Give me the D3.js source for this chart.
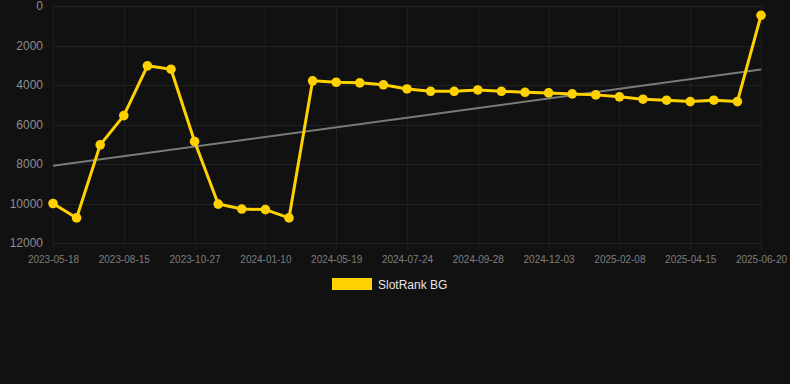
<!DOCTYPE html>
<html>
<head>
<meta charset="utf-8">
<script src="https://cdn.jsdelivr.net/npm/d3@7/dist/d3.min.js"></script>
<style>
  html, body { margin: 0; padding: 0; background: #111111; }
  svg { display: block; }
</style>
</head>
<body>
<svg id="chart" width="790" height="384"></svg>
<script>
// ---- data ----
const dates = [
  "2023-05-18", "2023-06-16", "2023-07-16",
  "2023-08-15", "2023-09-08", "2023-10-03",
  "2023-10-27", "2023-11-21", "2023-12-16",
  "2024-01-10", "2024-02-22", "2024-04-05",
  "2024-05-19", "2024-06-10", "2024-07-02",
  "2024-07-24", "2024-08-15", "2024-09-06",
  "2024-09-28", "2024-10-20", "2024-11-11",
  "2024-12-03", "2024-12-25", "2025-01-17",
  "2025-02-08", "2025-03-02", "2025-03-24",
  "2025-04-15", "2025-05-07", "2025-05-29",
  "2025-06-20"
];
const rankValues = [
  10000, 10730, 7030, 5550, 3030, 3200, 6860, 10030, 10280, 10310, 10730,
  3790, 3860, 3890, 3990, 4200, 4320, 4320, 4250, 4320, 4370,
  4400, 4450, 4500, 4600, 4720, 4770, 4840, 4770, 4840, 470
];
const trendValues = [8090, 3220]; // trend line at first and last date
const yTicks = [0, 2000, 4000, 6000, 8000, 10000, 12000];
const xTickLabels = [
  "2023-05-18", "2023-08-15", "2023-10-27", "2024-01-10", "2024-05-19",
  "2024-07-24", "2024-09-28", "2024-12-03", "2025-02-08", "2025-04-15", "2025-06-20"
];
const seriesName = "SlotRank BG";

// ---- drawing ----
(function () {
const svg = d3.select("#chart");
const pLeft = 53, pRight = 761, pTop = 6, pBottom = 243;
const gold = "#FFD100";
const font = "'Liberation Sans', Arial, Helvetica, sans-serif";

const x = d3.scalePoint().domain(dates).range([pLeft, pRight]);
const y = d3.scaleLinear().domain([0, 12000]).range([pTop, pBottom]);

svg.append("rect").attr("width", 790).attr("height", 384).attr("fill", "#111111");

// horizontal grid
svg.append("g").selectAll("line").data(yTicks).join("line")
  .attr("x1", pLeft).attr("x2", pRight)
  .attr("y1", d => Math.round(y(d)) + 0.5).attr("y2", d => Math.round(y(d)) + 0.5)
  .attr("stroke", "#222222").attr("stroke-width", 1);

// vertical grid (labelled ticks)
svg.append("g").selectAll("line").data(xTickLabels).join("line")
  .attr("x1", d => Math.round(x(d)) + 0.5).attr("x2", d => Math.round(x(d)) + 0.5)
  .attr("y1", pTop).attr("y2", pBottom + 6)
  .attr("stroke", "#1e1e1e").attr("stroke-width", 1);

// y axis
const yAxis = svg.append("g")
  .attr("transform", `translate(${pLeft - 10},0)`)
  .call(d3.axisLeft(y).tickValues(yTicks).tickSize(0).tickPadding(0).tickFormat(d3.format("d")));
yAxis.select(".domain").remove();
yAxis.selectAll("text")
  .attr("fill", "#8e8e8e").style("font-family", font).style("font-size", "12px");

// x axis
const xAxis = svg.append("g")
  .attr("transform", `translate(0,${pBottom + 13})`)
  .call(d3.axisBottom(x).tickValues(xTickLabels).tickSize(0).tickPadding(0));
xAxis.select(".domain").remove();
xAxis.selectAll("text")
  .attr("fill", "#7e7e7e").style("font-family", font).style("font-size", "10px");

// trend line
svg.append("line")
  .attr("x1", x(dates[0])).attr("y1", y(trendValues[0]))
  .attr("x2", x(dates[dates.length - 1])).attr("y2", y(trendValues[1]))
  .attr("stroke", "#7a7a7a").attr("stroke-width", 2);

// series line
const pts = dates.map((d, i) => [d, rankValues[i]]);
svg.append("path")
  .datum(pts)
  .attr("fill", "none")
  .attr("stroke", gold)
  .attr("stroke-width", 3)
  .attr("stroke-linejoin", "round")
  .attr("d", d3.line().x(d => x(d[0])).y(d => y(d[1])));

svg.append("g").selectAll("circle").data(pts).join("circle")
  .attr("cx", d => x(d[0])).attr("cy", d => y(d[1]))
  .attr("r", 4.8).attr("fill", gold);

// legend
const lg = svg.append("g");
lg.append("rect").attr("x", 332).attr("y", 278).attr("width", 40).attr("height", 12).attr("fill", gold);
lg.append("text").attr("x", 378).attr("y", 288.5)
  .attr("fill", "#e6e6e6").style("font-family", font).style("font-size", "12px")
  .text(seriesName);
})();
</script>
</body>
</html>
